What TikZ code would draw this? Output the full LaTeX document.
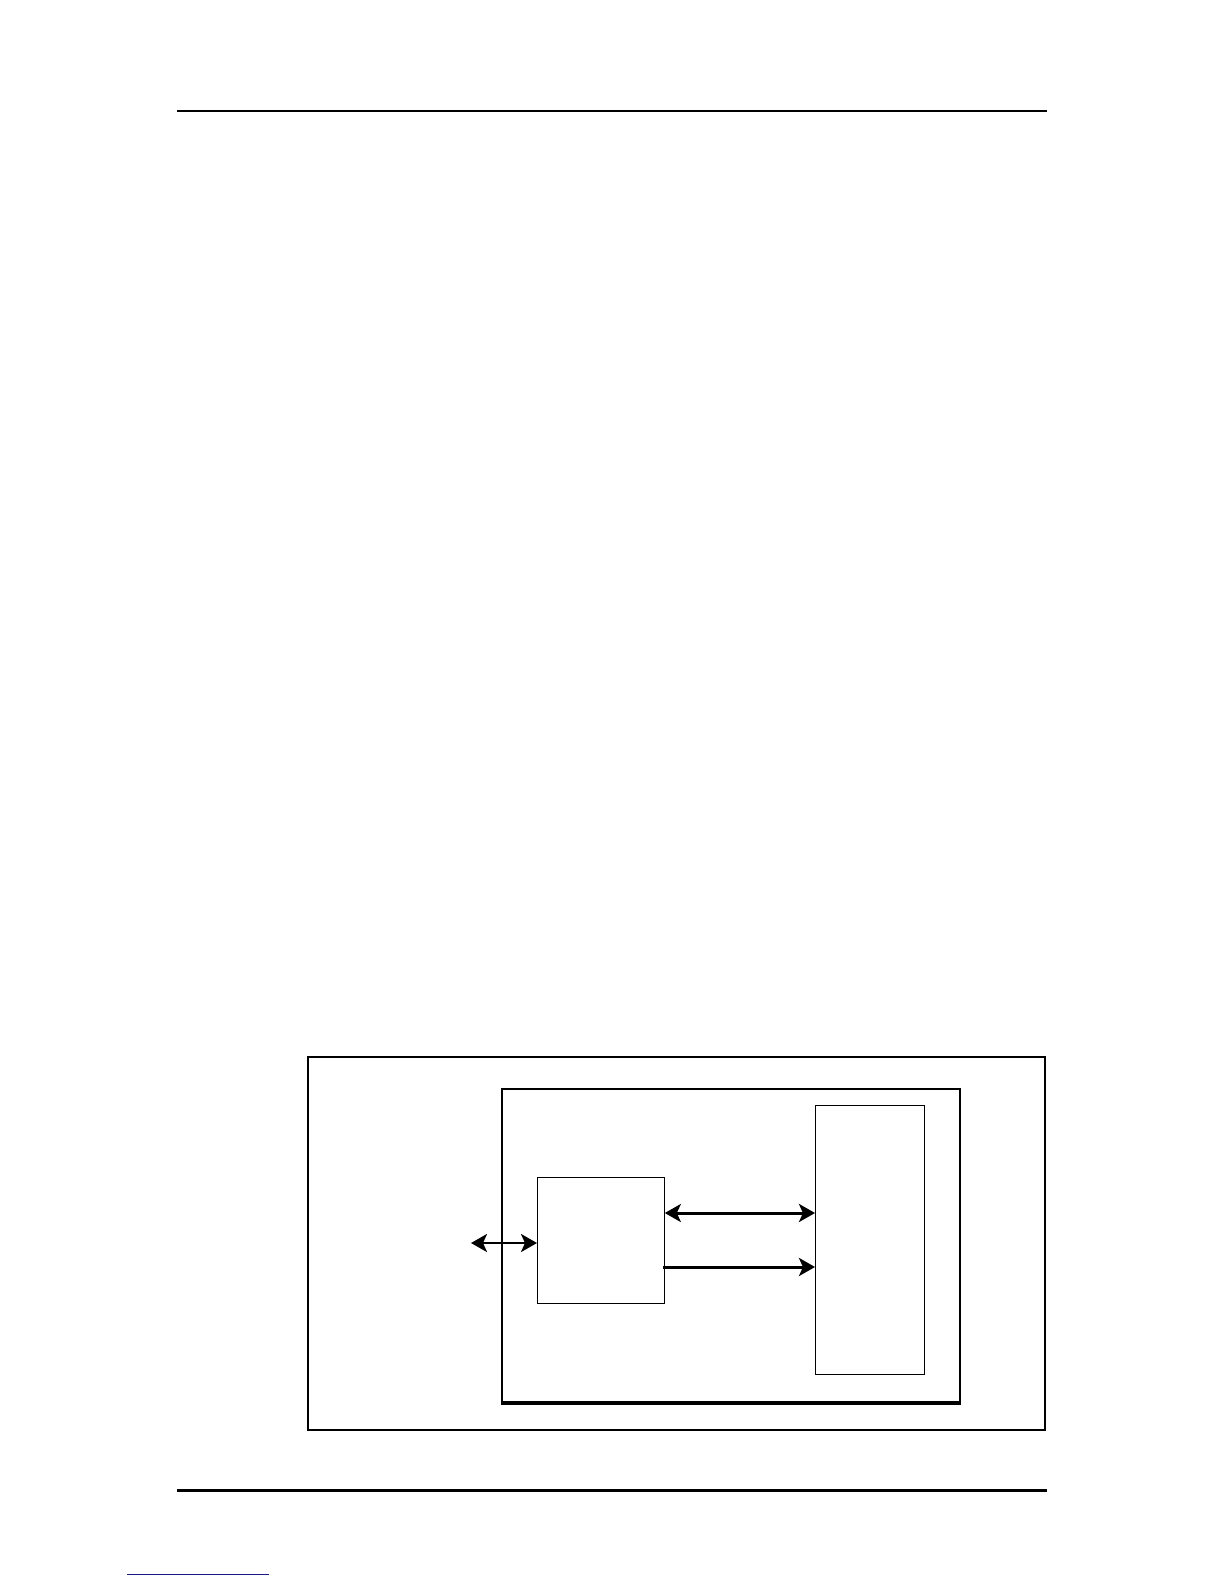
\documentclass[tikz,border=0pt]{standalone}
\usetikzlibrary{arrows.meta}
\definecolor{linkblue}{RGB}{25,25,140}
\begin{document}
\begin{tikzpicture}[x=0.5bp,y=-0.5bp,
  >={Stealth[length=8bp,width=9bp,inset=2bp]},
  frame/.style={draw=black,line width=1bp,inner sep=0pt,anchor=north west},
  thinbox/.style={draw=black,line width=0.55bp,inner sep=0pt,anchor=north west},
  conn/.style={line width=1.5bp},
  rule/.style={line width=0.6bp}]
\useasboundingbox (0,0) rectangle (1224,1584);
% page rules
\draw[rule] (177,111) -- (1047,111);
\draw[line width=1.1bp] (177,1490.5) -- (1047,1490.5);
\draw[linkblue,line width=0.8bp] (127,1574.5) -- (269,1574.5);
% frames
\node[frame,minimum width=368.65bp,minimum height=186.65bp] (outer) at (306.7,1055.7) {};
\node[frame,minimum width=229bp,minimum height=156.5bp] (inner) at (501,1088) {};
\draw[line width=1.6bp] ([yshift=-0.3bp]inner.south west) -- ([yshift=-0.3bp]inner.south east);
\node[thinbox,minimum width=54.35bp,minimum height=134.5bp] (right) at (815,1105) {};
\node[thinbox,minimum width=63.35bp,minimum height=63bp] (small) at (537,1177) {};
% connectors
\coordinate (ext) at (471,1243);
\draw[conn,<->] (small.east |- 0,1213) -- (right.west |- 0,1213);
\draw[conn,->] ([xshift=-1bp]small.east |- 0,1267) -- (right.west |- 0,1267);
\draw[line width=1.2bp,<->] (ext) -- (small.west |- ext);
\end{tikzpicture}
\end{document}
